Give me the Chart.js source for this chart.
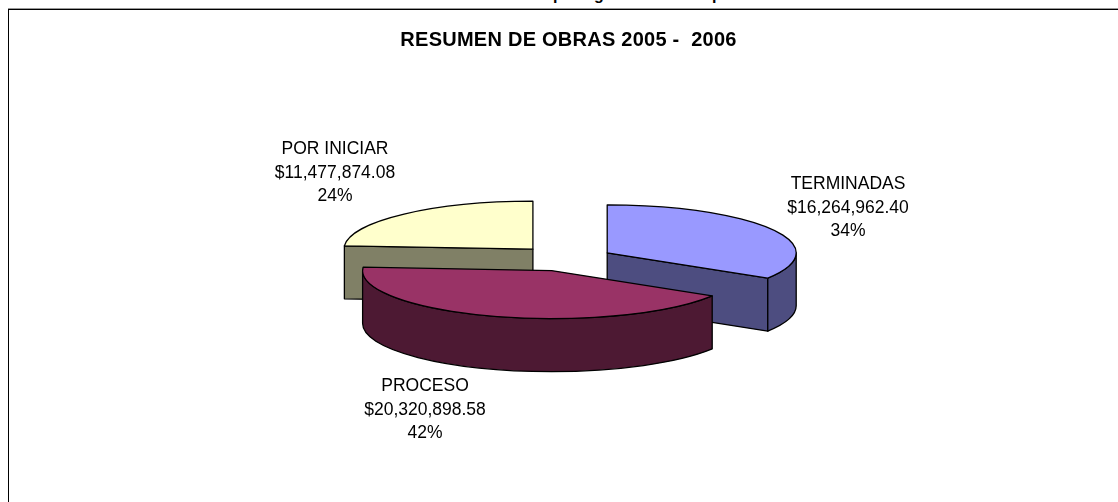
<!DOCTYPE html>
<html>
<head>
<meta charset="utf-8">
<title>Resumen de obras 2005 - 2006</title>
<script src="https://cdn.jsdelivr.net/npm/chart.js@4/dist/chart.umd.js"></script>
<style>
  html, body { margin: 0; padding: 0; background: #fff; overflow: hidden; }
  #page { position: relative; width: 1118px; height: 502px; overflow: hidden; }
  #rule { position: absolute; left: 8px; right: 0; top: 8px; height: 1px; background: #999; }
  #frame { position: absolute; left: 8px; top: 9px; right: -2px; bottom: -2px;
           border-left: 1px solid #000; border-top: 1px solid #000; }
  canvas { position: absolute; left: 0; top: 0; }
  .cut { position: absolute; top: -14px; font: bold 16px "Liberation Sans", sans-serif; color: #000; }
</style>
</head>
<body>
<div id="page">
  <span class="cut" style="left:553px">p</span>
  <span class="cut" style="left:594px">g</span>
  <span class="cut" style="left:712px">p</span>
  <div id="rule"></div>
  <div id="frame"></div>
  <canvas id="pie" width="1118" height="502"></canvas>
</div>
<script>
const categories = ['TERMINADAS', 'PROCESO', 'POR INICIAR'];
const amounts = [16264962.40, 20320898.58, 11477874.08];
const topColors = ['#9999FF', '#993366', '#FFFFCC'];
const wallColors = ['#4D4D80', '#4D1933', '#808066'];
const explodes = [46, 50, 50];

// label block centre x and first baseline y, same order as categories
const labelSpots = [[848, 189], [425, 391], [335, 154]];

const total = amounts.reduce((a, b) => a + b, 0);
const money = v => '$' + v.toLocaleString('en-US', { minimumFractionDigits: 2, maximumFractionDigits: 2 });
const percent = v => Math.round(v / total * 100) + '%';

// Excel style tilted pie: the arcs come from Chart.js, this only squashes them and adds the walls
const pie3d = {
  id: 'pie3d',
  beforeDraw(chart) {
    // the title plugin has no letter spacing option
    chart.ctx.letterSpacing = '0.25px';
  },
  beforeDatasetDraw(chart, args, opts) {
    const ctx = chart.ctx;
    const arcs = args.meta.data;
    const { cx, cy, tilt, depth, wallOrder } = opts;

    const place = (arc, i) => {
      const mid = (arc.startAngle + arc.endAngle) / 2;
      return { x: cx + Math.cos(mid) * explodes[i], y: cy + Math.sin(mid) * explodes[i] * tilt };
    };
    const rim = (c, r, a) => ({ x: c.x + Math.cos(a) * r, y: c.y + Math.sin(a) * r * tilt });

    ctx.save();
    ctx.strokeStyle = '#000';
    ctx.lineWidth = 1.3;
    ctx.lineJoin = 'round';

    for (const i of wallOrder) {
      const arc = arcs[i];
      const c = place(arc, i);
      const r = arc.outerRadius;
      const a0 = arc.startAngle, a1 = arc.endAngle;
      ctx.fillStyle = wallColors[i];

      // flat cut faces
      const faces = [];
      if (Math.cos(a0) < -1e-6) faces.push(a0);
      if (Math.cos(a1) > 1e-6) faces.push(a1);
      for (const a of faces) {
        const p = rim(c, r, a);
        ctx.beginPath();
        ctx.moveTo(c.x, c.y);
        ctx.lineTo(p.x, p.y);
        ctx.lineTo(p.x, p.y + depth);
        ctx.lineTo(c.x, c.y + depth);
        ctx.closePath();
        ctx.fill();
        ctx.stroke();
      }

      // outer wall, only the part facing the viewer
      const from = Math.max(a0, 0), to = Math.min(a1, Math.PI);
      if (to > from) {
        ctx.beginPath();
        ctx.ellipse(c.x, c.y, r, r * tilt, 0, from, to);
        ctx.ellipse(c.x, c.y + depth, r, r * tilt, 0, to, from, true);
        ctx.closePath();
        ctx.fill();
        ctx.stroke();
      }
    }

    // top faces
    for (const i of wallOrder) {
      const arc = arcs[i];
      const c = place(arc, i);
      ctx.save();
      ctx.translate(c.x, c.y);
      ctx.scale(1, tilt);
      ctx.translate(-arc.x, -arc.y);
      arc.draw(ctx);
      ctx.restore();

      ctx.beginPath();
      ctx.moveTo(c.x, c.y);
      ctx.ellipse(c.x, c.y, arc.outerRadius, arc.outerRadius * tilt, 0, arc.startAngle, arc.endAngle);
      ctx.closePath();
      ctx.stroke();
    }
    ctx.restore();
    return false;
  },
  afterDraw(chart) {
    const ctx = chart.ctx;
    ctx.save();
    ctx.fillStyle = '#000';
    ctx.font = '17.5px "Liberation Sans", Arial, sans-serif';
    ctx.letterSpacing = '0px';
    ctx.textAlign = 'center';
    ctx.textBaseline = 'alphabetic';
    categories.forEach((name, i) => {
      const [x, y] = labelSpots[i];
      [name, money(amounts[i]), percent(amounts[i])].forEach((line, n) => {
        ctx.fillText(line, x, y + n * 23.5);
      });
    });
    ctx.restore();
  },
};

new Chart(document.getElementById('pie'), {
  type: 'pie',
  plugins: [pie3d],
  data: {
    labels: categories,
    datasets: [{
      data: amounts,
      backgroundColor: topColors,
      borderWidth: 0,
      radius: 189,
      clip: false,
    }],
  },
  options: {
    responsive: false,
    animation: false,
    events: [],
    layout: { padding: { left: 19 } },
    plugins: {
      legend: { display: false },
      tooltip: { enabled: false },
      title: {
        display: true,
        text: 'RESUMEN DE OBRAS 2005 -  2006',
        color: '#000',
        font: { family: '"Liberation Sans", Arial, sans-serif', size: 20, weight: 'bold' },
        padding: { top: 28, bottom: 10 },
      },
      pie3d: { cx: 567, cy: 258.5, tilt: 0.254, depth: 53, wallOrder: [2, 0, 1] },
    },
  },
});
</script>
</body>
</html>
